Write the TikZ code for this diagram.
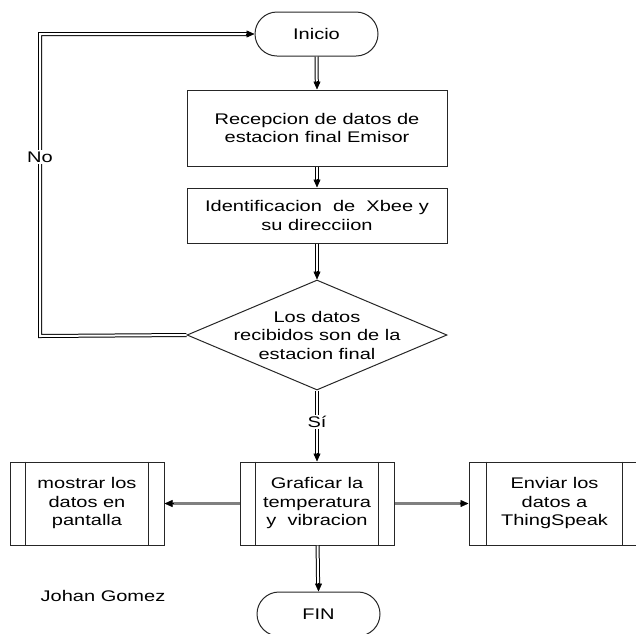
\documentclass[tikz,border=0pt]{standalone}
\usepackage{fontspec}
\setmainfont[FakeStretch=1.3]{Liberation Sans}
\usetikzlibrary{shapes.misc,shapes.geometric,arrows.meta}
\begin{document}
\begin{tikzpicture}[x=1pt,y=-1pt,
  every node/.style={font=\fontsize{15.4}{18.5}\selectfont},
  boxline/.style={draw=black!85,line width=1pt},
  term/.style={boxline,rounded rectangle,minimum width=123pt,minimum height=44pt,inner sep=0pt},
  rect/.style={boxline,rectangle,minimum width=260pt,inner sep=0pt,align=center},
  proc/.style={boxline,rectangle,minimum height=83pt,inner sep=0pt,align=center},
  dbl/.style={draw=black,line width=1pt,double=white,double distance=2pt,shorten >=7pt},
  tiph/.style={-{Triangle[length=8pt,width=7pt]},line width=0.5pt,black},
  gline/.style={draw=black!50,line width=3.8pt,shorten >=8pt},
  lbl/.style={fill=white,inner sep=1.5pt}
]
\useasboundingbox (0,0) rectangle (636,633);
\clip (0,0) rectangle (636,633);

\node[term] (inicio) at (316.5,34) {Inicio};
\node[rect,minimum height=76pt] (recep) at (317,128) {Recepcion de datos de\\estacion final Emisor};
\node[rect,minimum height=55pt] (ident) at (317,215.5) {Identificacion\ \ de\ \ Xbee y\\su direcciion};
\node[boxline,diamond,minimum width=260pt,minimum height=110pt,inner sep=0pt] (dec) at (317,335) {};
\node[align=center] (dectxt) at (317,335) {Los datos\\recibidos son de la\\estacion final};

\node[proc,minimum width=154pt] (graf) at (317,503.5) {Graficar la\\temperatura\\y\ \ vibracion};
\node[proc,minimum width=154pt] (most) at (87,503.5) {mostrar los\\datos en\\pantalla};
\node[proc,minimum width=171pt] (envi) at (554.5,503.5) {Enviar los\\datos a\\ThingSpeak};
\foreach \n/\o in {graf/16,most/16,envi/18}{
  \draw[boxline] ([xshift=\o pt]\n.north west) -- ([xshift=\o pt]\n.south west);
  \draw[boxline] ([xshift=-\o pt]\n.north east) -- ([xshift=-\o pt]\n.south east);
}

\node[term] (fin) at (318.5,614) {FIN};
\node (autor) at (103,596) {Johan Gomez};

\coordinate (c1) at (40,336);
\coordinate (c2) at (40,34);

% vertical double arrows
\draw[dbl] (inicio) -- (recep);
\draw[tiph] ([yshift=9pt]recep.north) -- (recep.north);
\draw[dbl] (recep) -- (ident);
\draw[tiph] ([yshift=9pt]ident.north) -- (ident.north);
\draw[dbl] (ident) -- (dec);
\draw[tiph] ([yshift=9pt]dec.north) -- (dec.north);
\draw[dbl] (dec.south) -- (graf.north);
\draw[tiph] ([yshift=9pt]graf.north) -- (graf.north);
\draw[dbl] (graf) -- (fin);
\draw[tiph] ([yshift=9pt]fin.north) -- (fin.north);
\node[lbl] (si) at (317,422) {Sí};

% No loop
\draw[dbl] (dec.west) -- (c1) -- (c2) -- (inicio.west);
\draw[tiph] ([xshift=-9pt]inicio.west) -- (inicio.west);
\node[lbl] (no) at (40,157) {No};

% horizontal arrows
\draw[gline] (graf.west) -- (most.east);
\draw[tiph] ([xshift=9pt]most.east) -- (most.east);
\draw[gline] (graf.east) -- (envi.west);
\draw[tiph] ([xshift=-9pt]envi.west) -- (envi.west);
\end{tikzpicture}
\end{document}
